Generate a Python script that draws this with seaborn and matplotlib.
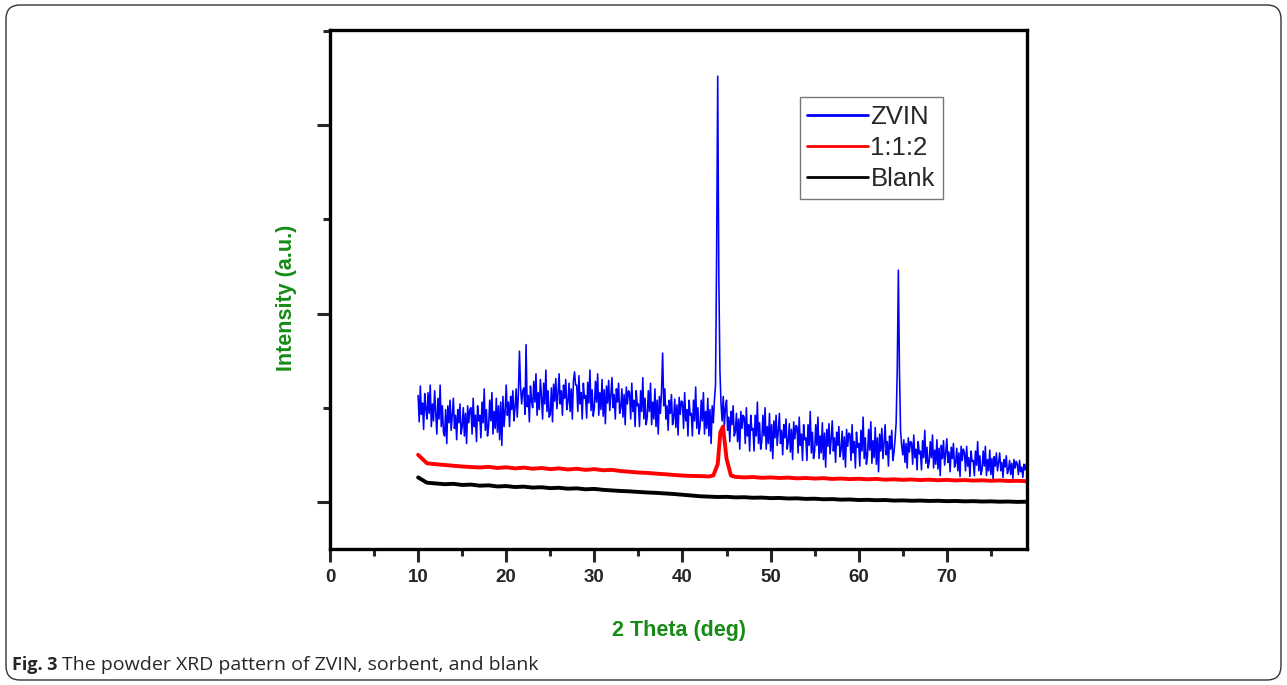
import numpy as np
import pandas as pd
import matplotlib
matplotlib.use("Agg")
import matplotlib.pyplot as plt
from matplotlib.patches import FancyBboxPatch
from matplotlib.ticker import MultipleLocator
import seaborn as sns

# ── Data ─────────────────────────────────────────────────────────────────────
# ZVIN: scan 10..79 deg in 0.125 deg steps (8 values per degree row)
zvin_theta = np.arange(10, 79.001, 0.125)
zvin_int = [
    1565, 1425, 1615, 1465, 1525, 1385, 1575, 1495,   # 10
    1440, 1580, 1470, 1620, 1400, 1520, 1430, 1590,   # 11
    1480, 1360, 1550, 1440, 1620, 1400, 1510, 1370,   # 12
    1350, 1490, 1310, 1510, 1420, 1540, 1380, 1460,   # 13
    1550, 1390, 1460, 1330, 1490, 1420, 1520, 1360,   # 14
    1400, 1500, 1350, 1470, 1310, 1510, 1420, 1490,   # 15
    1500, 1360, 1550, 1400, 1460, 1320, 1510, 1430,   # 16
    1460, 1340, 1530, 1420, 1600, 1380, 1490, 1350,   # 17
    1400, 1540, 1430, 1580, 1360, 1480, 1390, 1550,   # 18
    1370, 1510, 1330, 1530, 1300, 1560, 1400, 1480,   # 19
    1620, 1460, 1530, 1400, 1560, 1490, 1590, 1430,   # 20
    1500, 1600, 1450, 1570, 1800, 1610, 1520, 1590,   # 21
    1605, 1465, 1835, 1505, 1565, 1425, 1615, 1535,   # 22
    1500, 1640, 1530, 1680, 1460, 1580, 1490, 1650,   # 23
    1560, 1440, 1630, 1520, 1700, 1480, 1590, 1450,   # 24
    1465, 1605, 1425, 1625, 1535, 1655, 1495, 1575,   # 25
    1680, 1520, 1590, 1460, 1620, 1550, 1650, 1490,   # 26
    1530, 1630, 1480, 1600, 1440, 1640, 1690, 1620,   # 27
    1620, 1480, 1670, 1520, 1580, 1440, 1630, 1550,   # 28
    1565, 1445, 1635, 1525, 1700, 1485, 1595, 1455,   # 29
    1500, 1640, 1530, 1680, 1460, 1580, 1490, 1650,   # 30
    1455, 1595, 1415, 1615, 1525, 1645, 1485, 1565,   # 31
    1660, 1500, 1570, 1440, 1600, 1530, 1630, 1470,   # 32
    1500, 1600, 1450, 1570, 1410, 1610, 1520, 1590,   # 33
    1580, 1440, 1630, 1480, 1540, 1400, 1590, 1510,   # 34
    1520, 1400, 1590, 1480, 1660, 1440, 1550, 1410,   # 35
    1450, 1590, 1480, 1630, 1410, 1530, 1440, 1600,   # 36
    1400, 1540, 1360, 1560, 1470, 1590, 1790, 1510,   # 37
    1600, 1440, 1510, 1380, 1540, 1470, 1570, 1410,   # 38
    1445, 1545, 1395, 1515, 1355, 1555, 1465, 1535,   # 39
    1530, 1390, 1580, 1430, 1490, 1350, 1540, 1460,   # 40
    1470, 1350, 1540, 1430, 1610, 1390, 1500, 1360,   # 41
    1400, 1540, 1430, 1580, 1360, 1480, 1390, 1550,   # 42
    1350, 1490, 1310, 1510, 1420, 1540, 1620, 2300,   # 43
    3260, 2200, 1700, 1520, 1430, 1560, 1400, 1500,   # 44
    1540, 1380, 1450, 1320, 1480, 1410, 1510, 1350,   # 45
    1370, 1470, 1320, 1440, 1280, 1480, 1390, 1460,   # 46
    1450, 1310, 1500, 1350, 1410, 1270, 1460, 1380,   # 47
    1390, 1270, 1460, 1350, 1530, 1310, 1420, 1280,   # 48
    1320, 1460, 1350, 1500, 1280, 1400, 1310, 1470,   # 49
    1270, 1410, 1230, 1430, 1340, 1460, 1300, 1380,   # 50
    1470, 1310, 1380, 1250, 1410, 1340, 1440, 1280,   # 51
    1315, 1415, 1265, 1385, 1225, 1425, 1335, 1405,   # 52
    1400, 1260, 1450, 1300, 1360, 1220, 1410, 1330,   # 53
    1340, 1220, 1410, 1300, 1480, 1260, 1370, 1230,   # 54
    1270, 1410, 1300, 1450, 1230, 1350, 1260, 1420,   # 55
    1225, 1365, 1185, 1385, 1295, 1415, 1255, 1335,   # 56
    1430, 1270, 1340, 1210, 1370, 1300, 1400, 1240,   # 57
    1275, 1375, 1225, 1345, 1185, 1385, 1295, 1365,   # 58
    1360, 1220, 1410, 1260, 1320, 1180, 1370, 1290,   # 59
    1310, 1190, 1380, 1270, 1450, 1230, 1340, 1200,   # 60
    1245, 1385, 1275, 1425, 1205, 1325, 1235, 1395,   # 61
    1200, 1340, 1160, 1360, 1270, 1390, 1230, 1310,   # 62
    1410, 1250, 1320, 1190, 1350, 1280, 1380, 1220,   # 63
    1260, 1330, 1420, 1700, 2230, 1700, 1380, 1300,   # 64
    1250, 1330, 1210, 1310, 1180, 1340, 1265, 1320,   # 65
    1315, 1200, 1355, 1235, 1280, 1170, 1320, 1255,   # 66
    1270, 1170, 1325, 1235, 1380, 1205, 1290, 1180,   # 67
    1210, 1320, 1235, 1355, 1180, 1275, 1200, 1330,   # 68
    1175, 1285, 1140, 1300, 1230, 1325, 1195, 1260,   # 69
    1335, 1210, 1265, 1160, 1290, 1230, 1310, 1185,   # 70
    1205, 1285, 1165, 1260, 1135, 1295, 1220, 1280,   # 71
    1260, 1165, 1295, 1190, 1235, 1135, 1270, 1215,   # 72
    1220, 1140, 1270, 1195, 1320, 1165, 1245, 1145,   # 73
    1170, 1270, 1190, 1295, 1140, 1225, 1165, 1275,   # 74
    1145, 1230, 1120, 1240, 1190, 1260, 1165, 1210,   # 75
    1260, 1165, 1210, 1130, 1225, 1185, 1245, 1150,   # 76
    1170, 1220, 1145, 1205, 1125, 1225, 1180, 1215,   # 77
    1200, 1145, 1220, 1160, 1185, 1130, 1200, 1170,   # 78
    1200,                                             # 79
]
assert len(zvin_int) == len(zvin_theta)

# 1:1:2 sorbent
sorb_theta = list(range(10, 44)) + [43.5, 44.0, 44.3, 44.6, 45.0, 45.5] + list(range(46, 80))
sorb_int = [
    1250, 1205, 1200, 1196, 1192, 1188, 1185, 1183, 1186, 1180,
    1184, 1178, 1182, 1176, 1180, 1174, 1178, 1172, 1176, 1170,
    1174, 1168, 1170, 1164, 1160, 1156, 1154, 1150, 1147, 1143,
    1140, 1138, 1137, 1135,
    1140, 1200, 1370, 1400, 1230, 1140,
    1133, 1130, 1132, 1128, 1130, 1127, 1129, 1125, 1127, 1124,
    1126, 1122, 1124, 1121, 1123, 1120, 1122, 1118, 1120, 1117,
    1119, 1116, 1118, 1115, 1117, 1114, 1116, 1113, 1115, 1112,
    1114, 1111, 1112, 1110,
]

# Blank
blank_theta = list(range(10, 80))
blank_int = [
    1130, 1102, 1098, 1094, 1096, 1090, 1092, 1086, 1088, 1082,
    1084, 1079, 1081, 1076, 1078, 1073, 1075, 1070, 1072, 1067,
    1069, 1064, 1061, 1058, 1056, 1053, 1050, 1048, 1045, 1042,
    1038, 1034, 1030, 1028, 1026, 1027, 1024, 1025, 1022, 1023,
    1020, 1021, 1018, 1019, 1016, 1017, 1014, 1015, 1012, 1013,
    1010, 1011, 1009, 1010, 1007, 1008, 1006, 1007, 1005, 1006,
    1004, 1005, 1003, 1004, 1002, 1003, 1001, 1002, 1000, 1001,
]

SERIES = [
    ("ZVIN",  zvin_theta,  zvin_int,  "#0000ff", 1.15),
    ("1:1:2", sorb_theta,  sorb_int,  "#ff0000", 2.8),
    ("Blank", blank_theta, blank_int, "#000000", 2.8),
]

# ── Style ────────────────────────────────────────────────────────────────────
sns.set_style("ticks")
plt.rcParams["font.family"] = ["Liberation Sans", "DejaVu Sans"]

fig = plt.figure(figsize=(12.87, 6.85), dpi=100)
ax = fig.add_axes([330 / 1287, (685 - 549) / 685, 697 / 1287, 519 / 685])

for name, x, y, color, lw in SERIES:
    df = pd.DataFrame({"theta": x, "intensity": y})
    sns.lineplot(data=df, x="theta", y="intensity", ax=ax, color=color,
                 linewidth=lw, estimator=None, sort=False, label=name)

ax.set_xlim(0, 79.1)
ax.set_ylim(750, 3505)
ax.xaxis.set_major_locator(MultipleLocator(10))
ax.xaxis.set_minor_locator(MultipleLocator(5))
ax.yaxis.set_major_locator(MultipleLocator(1000))
ax.yaxis.set_minor_locator(MultipleLocator(500))

for s in ax.spines.values():
    s.set_linewidth(2.4)
    s.set_color("black")

ax.tick_params(axis="both", which="major", direction="out", length=9.5, width=2.2,
               top=False, right=False)
ax.tick_params(axis="both", which="minor", direction="out", length=5, width=2.2,
               top=False, right=False)
ax.tick_params(axis="x", which="major", labelsize=13.5, pad=5)
ax.tick_params(axis="y", labelleft=False)
for lbl in ax.get_xticklabels():
    lbl.set_fontweight("bold")

green = "#168c16"
ax.set_xlabel("2 Theta (deg)", fontsize=15.5, fontweight="bold", color=green)
ax.set_ylabel("Intensity (a.u.)", fontsize=15.5, fontweight="bold", color=green)
ax.xaxis.set_label_coords(0.5, -0.137)
ax.yaxis.set_label_coords(-0.048, 0.484)

leg = ax.legend(loc="upper left", bbox_to_anchor=(0.674, 0.871), fontsize=18.5,
                frameon=True, fancybox=False, edgecolor="#555555",
                handlelength=2.35, handletextpad=0.1, labelspacing=0.28,
                borderpad=0.3, borderaxespad=0)
leg.get_frame().set_linewidth(1.0)
for line in leg.get_lines():
    line.set_linewidth(2.0)

# ── Caption + rounded frame ──────────────────────────────────────────────────
cap_y = 1 - 665 / 685
fig_lbl = fig.text(12 / 1287, cap_y, "Fig. 3", fontsize=13, fontweight="bold",
                   family=["Open Sans", "DejaVu Sans"], va="center", ha="left")
renderer = fig.canvas.get_renderer()
x_after = fig_lbl.get_window_extent(renderer).x1 + 5
fig.text(x_after / 1287, cap_y, "The powder XRD pattern of ZVIN, sorbent, and blank",
         fontsize=14, family=["Open Sans", "DejaVu Sans"], va="center", ha="left")

frame = FancyBboxPatch((6, 5), 1275, 675, boxstyle="round,pad=0,rounding_size=14",
                       transform=None, fill=False, edgecolor="#333333", linewidth=1.0)
fig.patches.append(frame)

fig.savefig("out.png", dpi=100)
